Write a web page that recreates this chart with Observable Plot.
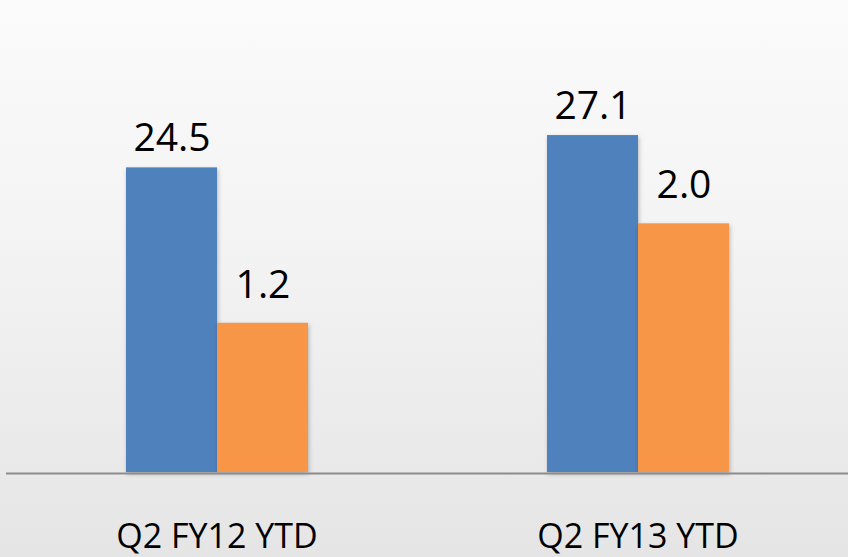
<!DOCTYPE html>
<html>
<head>
<meta charset="utf-8">
<script src="https://cdn.jsdelivr.net/npm/d3@7"></script>
<script src="https://cdn.jsdelivr.net/npm/@observablehq/plot@0.6"></script>
<style>
  html, body { margin: 0; padding: 0; }
  body {
    width: 848px; height: 557px; overflow: hidden;
    background: linear-gradient(to bottom, #fbfbfb 0%, #f3f3f3 45%, #e5e5e5 100%);
  }
  #chart svg { background: transparent; display: block; }
  #chart svg g[aria-label="bar"] rect { filter: drop-shadow(1px 2px 2px rgba(0,0,0,0.25)); }
</style>
</head>
<body>
<div id="chart"></div>
<script>
const categories = ["Q2 FY12 YTD", "Q2 FY13 YTD"];
const seriesNames = ["Series 1", "Series 2"];
const primaryValues = [24.5, 27.1];   // primary (left) axis
const secondaryValues = [1.2, 2.0];   // secondary (right) axis
const primaryAxisMax = 30;
const secondaryAxisMax = 3;
const seriesColors = ["#4F81BD", "#F79646"];

const ratio = primaryAxisMax / secondaryAxisMax;
const data = [];
categories.forEach((c, i) => {
  data.push({category: c, series: seriesNames[0], value: primaryValues[i], plotted: primaryValues[i]});
  data.push({category: c, series: seriesNames[1], value: secondaryValues[i], plotted: secondaryValues[i] * ratio});
});

const chart = Plot.plot({
  width: 848,
  height: 557,
  marginTop: 99,
  marginBottom: 85,
  marginLeft: 6,
  marginRight: 0,
  style: {fontFamily: "'Open Sans', sans-serif", fontSize: "34px", color: "#000", background: "transparent"},
  fx: {domain: categories, padding: 0, axis: "bottom", tickSize: 0, tickPadding: 51, label: null},
  x: {domain: seriesNames, paddingInner: 0, paddingOuter: 1.3, axis: null},
  y: {domain: [0, primaryAxisMax], axis: null},
  color: {domain: seriesNames, range: seriesColors},
  marks: [
    Plot.barY(data, {fx: "category", x: "series", y: "plotted", fill: "series"}),
    Plot.ruleY([0], {stroke: "#8c8c8c", strokeWidth: 2, dy: 1}),
    Plot.text(data.filter(d => d.series === seriesNames[0]), {fx: "category", x: "series", y: "plotted", text: d => d3.format(".1f")(d.value), dy: -29, fontSize: 39, fill: "#000"}),
    Plot.text(data.filter(d => d.series === seriesNames[1]), {fx: "category", x: "series", y: "plotted", text: d => d3.format(".1f")(d.value), dy: -38, fontSize: 39, fill: "#000"})
  ]
});
document.getElementById("chart").appendChild(chart);
</script>
</body>
</html>
